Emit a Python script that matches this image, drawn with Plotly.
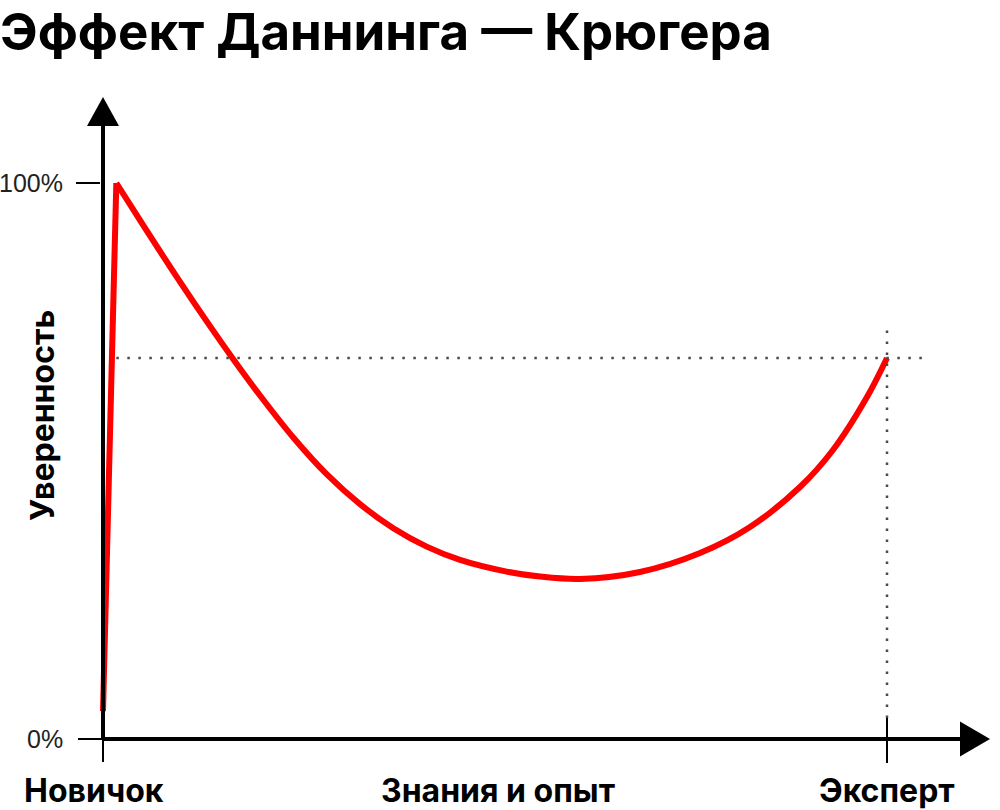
import plotly.graph_objects as go

# ---- data (knowledge 0..100, confidence %) ----
rise_x = [0, 1.7]
rise_y = [5, 100]
curve_x = [1.7, 5.14, 9.40, 13.65, 16.62, 20.03, 24.27, 28.53, 32.78, 37.03, 41.29,
           45.54, 51.49, 55.74, 60.84, 68.49, 76.15, 82.53, 88.90, 93.11, 97.45, 100]
curve_y = [100, 92.37, 83.13, 74.26, 68.31, 61.78, 54.23, 47.63, 42.23, 37.91, 34.60,
           32.21, 30.11, 29.21, 28.78, 30.04, 33.45, 38.13, 45.32, 51.98, 61.51, 68.53]
expert_x = 100
expert_y = 68.53
y_ticks = [0, 100]
y_tick_text = ["0%", "100%"]
x_labels = ["Новичок", "Знания и опыт", "Эксперт"]
x_label_pos = [-1.2, 50.5, 100]
title = "Эффект Даннинга — Крюгера"
y_title = "Уверенность"

# ---- scale (px per unit) ----
W, H = 1000, 810
X0_PX, Y0_PX = 103, 739
SX, SY = 7.84, 5.56
x_range = [-X0_PX / SX, (W - X0_PX) / SX]
y_range = [(Y0_PX - H) / SY, Y0_PX / SY]

def ux(px):
    return px / SX

def uy(px):
    return px / SY

RED = "#ff0000"
BLACK = "#000000"
DOT = "#4a4a4a"
BOLD_FONT = "Inter, Liberation Sans, Arial, sans-serif"
REG_FONT = "Liberation Sans, Arial, sans-serif"

fig = go.Figure()
fig.add_trace(go.Scatter(x=rise_x, y=rise_y, mode="lines",
                         line=dict(color=RED, width=6), hoverinfo="skip"))
fig.add_trace(go.Scatter(x=curve_x, y=curve_y, mode="lines",
                         line=dict(color=RED, width=6, shape="spline", smoothing=1.0,
                                   simplify=False),
                         hoverinfo="skip"))

shapes = []
y_top = 100 + uy(57)         # arrow base
y_tip = 100 + uy(86)
x_end = 100 + ux(73)
x_tip = 100 + ux(103)
# y axis
shapes.append(dict(type="line", x0=0, x1=0, y0=0, y1=y_top, line=dict(color=BLACK, width=4)))
shapes.append(dict(type="line", x0=0, x1=0, y0=-uy(23), y1=0, line=dict(color=BLACK, width=2)))
shapes.append(dict(type="path",
                   path=f"M {-ux(16)},{y_top} L {ux(16)},{y_top} L 0,{y_tip} Z",
                   fillcolor=BLACK, line=dict(color=BLACK, width=0)))
# x axis
shapes.append(dict(type="line", x0=0, x1=x_end, y0=0, y1=0, line=dict(color=BLACK, width=4)))
shapes.append(dict(type="line", x0=-ux(25), x1=0, y0=0, y1=0, line=dict(color=BLACK, width=2)))
shapes.append(dict(type="path",
                   path=f"M {x_end},{-uy(17.5)} L {x_end},{uy(17.5)} L {x_tip},0 Z",
                   fillcolor=BLACK, line=dict(color=BLACK, width=0)))
# ticks
for yt in y_ticks:
    if yt != 0:
        shapes.append(dict(type="line", x0=-ux(27), x1=-ux(3), y0=yt, y1=yt,
                           line=dict(color=BLACK, width=2)))
shapes.append(dict(type="line", x0=expert_x, x1=expert_x, y0=-uy(24), y1=uy(21),
                   line=dict(color=BLACK, width=2)))
# dotted guides
shapes.append(dict(type="line", x0=1.7, x1=expert_x + ux(38), y0=expert_y, y1=expert_y,
                   line=dict(color=DOT, width=2.5, dash="2.5px,8.5px")))
shapes.append(dict(type="line", x0=expert_x, x1=expert_x, y0=uy(21), y1=expert_y + uy(35),
                   line=dict(color=DOT, width=2.5, dash="2.5px,8.5px")))

annotations = []
for yt, tt in zip(y_ticks, y_tick_text):
    annotations.append(dict(x=-ux(38), y=yt, text=tt, showarrow=False, xanchor="right",
                            yanchor="middle", font=dict(size=25, color="#222222",
                            family=REG_FONT)))
for xl, tl in zip(x_label_pos, x_labels):
    annotations.append(dict(x=xl, y=-uy(51), text=f"<b>{tl}</b>", showarrow=False,
                            xanchor="center", yanchor="middle",
                            font=dict(size=32, color=BLACK, family=BOLD_FONT)))
annotations.append(dict(x=-ux(61), y=(Y0_PX - 416) / SY, text=f"<b>{y_title}</b>",
                        showarrow=False, textangle=-90, xanchor="center", yanchor="middle",
                        font=dict(size=32, color=BLACK, family=BOLD_FONT)))

fig.update_layout(
    width=W, height=H, autosize=False,
    margin=dict(l=0, r=0, t=0, b=0),
    paper_bgcolor="white", plot_bgcolor="white",
    showlegend=False,
    title=dict(text=f"<b>{title}</b>", x=0.0, xanchor="left", xref="paper",
               y=1 - 32 / H, yref="container", yanchor="middle",
               font=dict(size=51, color=BLACK, family=BOLD_FONT)),
    xaxis=dict(range=x_range, visible=False, fixedrange=True),
    yaxis=dict(range=y_range, visible=False, fixedrange=True),
    shapes=shapes, annotations=annotations,
)
fig.write_html("out.html", config={"displayModeBar": False},
               post_script="document.body.style.margin='0px';")
